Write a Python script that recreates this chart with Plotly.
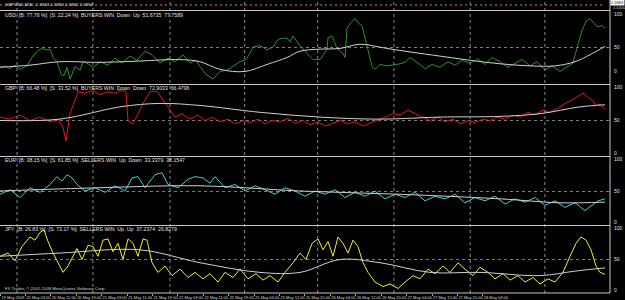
import plotly.graph_objects as go

W, H = 625, 300
PX_PER_BAR = 1.5885          # horizontal scale (one M30 bar)
PLOT_RIGHT = 610             # px, right price-scale line

# ---------------- tick labels ----------------
time_labels = ["19 May 2009", "20 May 03:00", "20 May 11:00", "20 May 19:00",
               "21 May 03:00", "21 May 11:00", "21 May 19:00", "22 May 03:00",
               "22 May 11:00", "22 May 19:00", "25 May 04:00", "25 May 12:00",
               "25 May 20:00", "26 May 04:00", "26 May 12:00", "26 May 20:00",
               "27 May 04:00", "27 May 12:00", "27 May 20:00", "28 May 04:00"]
label_bars = [16 * i for i in range(len(time_labels))]
grid_bars = [10.7, 58.5, 107, 154, 200, 248, 296, 343]

# ---------------- series (x in screen-scale px, value %) ----------------
usd_px = [0,5,10,15,20,27,33,38,42,47,50,53,57,61,64,67,70,75,80,83,88,93,100,108,115,122,130,137,145,152,160,168,175,183,190,196,200,206,213,220,227,233,240,246,250,253,260,267,273,277,280,287,290,293,300,307,313,320,327,328,332,337,343,345,347,351,355,358,362,368,372,375,380,387,393,400,405,410,418,425,432,440,448,455,462,470,478,485,492,500,508,515,522,530,537,545,552,560,567,573,578,582,586,590,594,598,602,605]
usd_val = [22,24,20,25,19,24,38,46,49,47,48,36,30,12,10,22,5,23,18,30,27,22,30,25,35,28,38,32,45,40,28,35,30,40,28,32,23,12,5,16,18,23,30,33,42,51,53,47,51,60,63,64,58,67,53,42,33,33,47,64,67,49,42,36,78,86,92,86,81,47,23,19,26,24,25,27,29,36,28,20,26,22,30,25,32,28,34,26,36,30,22,27,33,24,30,18,24,16,22,28,55,75,88,92,85,80,82,78]
usd_ma_px = [0,30,60,100,140,180,200,220,245,267,287,300,320,340,360,387,410,440,470,500,530,555,575,590,605]
usd_ma_val = [22,25,30,29,31,33,30,19,16,26,36,45,48,49,55,49,44,38,32,27,24,24,30,40,52]

gbp_px = [0,10,20,30,40,50,58,63,66,70,73,78,85,92,100,108,115,122,126,128,133,138,143,150,157,163,168,175,182,190,198,205,212,220,228,235,243,250,258,265,272,280,288,295,303,310,318,325,333,340,348,355,363,370,378,385,393,400,408,415,423,430,438,445,453,460,468,475,483,490,498,505,513,520,528,535,543,550,558,565,572,578,583,588,592,596,600,605]
gbp_val = [55,52,58,50,55,48,52,40,20,60,72,92,90,94,88,92,90,95,92,50,45,60,75,92,93,80,70,55,60,52,58,50,55,48,52,45,50,47,52,45,50,48,53,46,50,44,48,42,46,50,45,48,42,46,50,55,60,58,65,60,55,50,55,48,52,45,50,47,52,50,55,52,58,55,62,58,65,62,68,75,80,85,90,84,80,72,74,66]
gbp_ma_px = [0,60,120,160,200,260,320,380,440,500,540,580,605]
gbp_ma_val = [50,52,70,75,72,62,55,52,55,56,60,70,73]

eur_px = [0,10,20,30,40,50,57,62,67,72,77,85,95,105,115,125,132,138,145,155,162,168,178,188,195,203,210,215,225,235,245,255,265,275,285,295,305,315,325,335,345,355,365,375,385,395,405,415,425,435,445,455,465,475,485,495,505,515,525,535,545,555,565,575,585,592,598,605]
eur_val = [45,52,40,55,48,60,72,65,75,70,60,50,55,48,58,50,70,72,55,75,78,60,55,68,72,70,62,72,55,60,50,58,52,45,55,50,42,50,45,52,40,48,42,50,38,45,40,48,35,42,38,45,32,40,35,42,30,38,33,40,28,35,25,32,20,28,35,38]
eur_ma_px = [0,100,200,300,400,500,560,605]
eur_ma_val = [50,55,58,50,45,38,32,33]

jpy_px = [0,8,15,22,30,35,40,44,48,53,58,63,68,73,77,82,88,93,98,103,108,113,118,123,128,133,138,143,147,152,158,165,172,180,188,195,203,210,218,225,233,240,248,256,263,270,278,285,293,300,306,312,318,323,328,333,338,343,348,353,358,363,368,375,383,390,398,405,413,420,428,435,443,450,458,465,473,480,488,495,503,510,518,525,533,540,548,555,563,570,576,581,586,591,596,600,605]
jpy_val = [55,60,48,70,85,80,92,96,78,60,45,30,40,55,67,50,72,70,55,80,82,62,75,50,82,75,55,82,80,45,30,40,25,35,22,30,20,28,15,30,22,35,20,28,18,25,15,30,45,60,50,75,82,65,78,55,85,75,60,80,70,45,30,15,8,12,5,15,25,20,35,28,40,30,45,35,25,38,30,20,28,18,25,15,22,12,20,15,30,55,75,85,80,65,40,30,27]
jpy_ma_px = [0,60,140,200,260,300,340,380,430,480,540,575,605]
jpy_ma_val = [55,60,65,45,30,30,50,45,30,30,25,32,37]

price_px = [0, 605]
price_val = [1.5962, 1.5962]

panels = [
    ("USD", usd_px, usd_val, usd_ma_px, usd_ma_val, "#2f8f2a",
     "USD  [B: 77.76 %]  [S: 22.24 %]  BUYERS WIN  Down  Up  51.6735  77.7589"),
    ("GBP", gbp_px, gbp_val, gbp_ma_px, gbp_ma_val, "#e01818",
     "GBP  [B: 66.48 %]  [S: 33.52 %]  BUYERS WIN  Down  Down  72.9033  66.4796"),
    ("EUR", eur_px, eur_val, eur_ma_px, eur_ma_val, "#3ecfd6",
     "EUR  [B: 38.15 %]  [S: 61.85 %]  SELLERS WIN  Up  Down  33.3379  38.1547"),
    ("JPY", jpy_px, jpy_val, jpy_ma_px, jpy_ma_val, "#eeee3a",
     "JPY  [B: 26.83 %]  [S: 73.17 %]  SELLERS WIN  Up  Up  37.2374  26.8279"),
]
panel_px = [(11.5, 84), (85, 156), (157, 225), (226, 293)]
header_y = [15, 88, 160, 229]
scale_y = [(14, 47, 71), (87, 120, 153), (159, 191, 222), (228, 259, 290)]
scale_text = ["100", "50", "0"]

def py(p):
    return 1 - p / H

fig = go.Figure()
FONT = "Liberation Sans"

fig.add_trace(go.Scatter(x=[p / PX_PER_BAR for p in price_px], y=price_val,
                         mode="lines", line=dict(color="#7a3a24", width=2, dash="2px,3px"),
                         yaxis="y", hoverinfo="skip", showlegend=False))

layout_axes = {}
layout_axes["yaxis"] = dict(domain=[py(10.5), 1], range=[1.590, 1.602], visible=False,
                            anchor="x", fixedrange=True)
for i, (name, px_, val, mpx, mval, col, head) in enumerate(panels):
    ya = "y%d" % (i + 2)
    fig.add_trace(go.Scatter(x=[p / PX_PER_BAR for p in px_], y=val, mode="lines",
                             line=dict(color=col, width=1), yaxis=ya,
                             hoverinfo="skip", showlegend=False))
    fig.add_trace(go.Scatter(x=[p / PX_PER_BAR for p in mpx], y=mval, mode="lines",
                             line=dict(color="#d0d0d0", width=1, shape="spline"), yaxis=ya,
                             hoverinfo="skip", showlegend=False))
    top, bot = panel_px[i]
    layout_axes["yaxis%d" % (i + 2)] = dict(
        domain=[py(bot), py(top)], range=[-2, 102], anchor="x",
        tickvals=[50], showticklabels=False, ticks="",
        showgrid=True, gridcolor="#7a7a7a", griddash="dot", gridwidth=1,
        zeroline=False, showline=False, fixedrange=True)

fig.update_layout(
    width=W, height=H, margin=dict(l=0, r=0, t=0, b=0),
    paper_bgcolor="black", plot_bgcolor="black", showlegend=False,
    font=dict(family=FONT, color="#d8d8d8", size=5),
    xaxis=dict(domain=[0, PLOT_RIGHT / W], range=[0, PLOT_RIGHT / PX_PER_BAR], anchor="y5",
               tickvals=[b + 8.2 for b in label_bars], ticktext=time_labels, tickangle=0,
               ticks="", ticklabelstandoff=1,
               minor=dict(tickvals=label_bars, ticks="outside", ticklen=2, tickcolor="#a0a0a0",
                          showgrid=False),
               tickfont=dict(family=FONT, size=4.0, color="#d8d8d8"),
               showgrid=False, zeroline=False, showline=False, fixedrange=True),
    **layout_axes,
)

shapes = []
for gb in grid_bars:
    shapes.append(dict(type="line", xref="x", yref="paper", x0=gb, x1=gb,
                       y0=py(293), y1=1, line=dict(color="#8a8a8a", width=1, dash="dot")))
for yb in [10.5, 84.5, 156.5, 225.5, 293]:
    shapes.append(dict(type="line", xref="paper", yref="paper", x0=0, x1=PLOT_RIGHT / W,
                       y0=py(yb), y1=py(yb), line=dict(color="#c8c8c8", width=1.2)))
shapes.append(dict(type="line", xref="paper", yref="paper", x0=PLOT_RIGHT / W,
                   x1=PLOT_RIGHT / W, y0=py(293), y1=1, line=dict(color="#c8c8c8", width=1)))
fig.update_layout(shapes=shapes)

ann = []
for i, p in enumerate(panels):
    ann.append(dict(x=3 / W, y=py(header_y[i]), xref="paper", yref="paper", text=p[6],
                    showarrow=False, xanchor="left", yanchor="middle",
                    font=dict(size=5.2, color="#e0e0e0", family=FONT)))
    for t, yy in zip(scale_text, scale_y[i]):
        ann.append(dict(x=612 / W, y=py(yy), xref="paper", yref="paper", text=t,
                        showarrow=False, xanchor="left", yanchor="middle",
                        font=dict(size=5, color="#e0e0e0", family=FONT)))
ann.append(dict(x=3 / W, y=py(4.5), xref="paper", yref="paper",
                text="GBPUSD,M30  1.5963 1.5963 1.5962 1.5962", showarrow=False,
                xanchor="left", yanchor="middle", font=dict(size=4.4, color="#e0e0e0", family=FONT)))
ann.append(dict(x=3 / W, y=py(288), xref="paper", yref="paper",
                text="FX Trader, © 2001-2008 MetaQuotes Software Corp.", showarrow=False,
                xanchor="left", yanchor="middle", font=dict(size=4.3, color="#d0d0d0", family=FONT)))
ann.append(dict(x=1, y=py(2.2), xref="paper", yref="paper", text="1.5963", showarrow=False,
                xanchor="right", yanchor="middle", bgcolor="white", borderpad=0,
                font=dict(size=4.0, color="black", family=FONT)))
ann.append(dict(x=611 / W, y=py(7.5), xref="paper", yref="paper", text="1.5400", showarrow=False,
                xanchor="left", yanchor="middle", font=dict(size=4.0, color="#d0d0d0", family=FONT)))
fig.update_layout(annotations=ann)

fig.write_html("out.html")
